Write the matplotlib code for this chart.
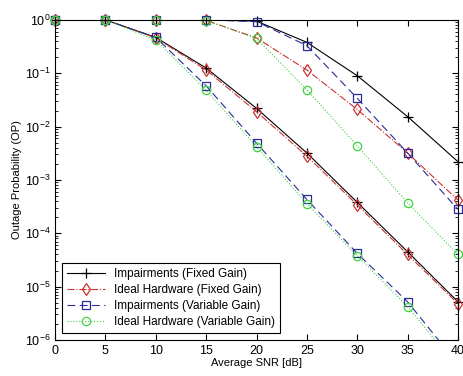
import matplotlib
matplotlib.use('Agg')
import matplotlib.pyplot as plt
import numpy as np
from matplotlib.lines import Line2D

plt.rcParams['font.family'] = ['Liberation Sans', 'DejaVu Sans']

snr = [0, 5, 10, 15, 20, 25, 30, 35, 40]

# steep family
imp_fixed_a = [1, 1, 0.47, 0.125, 0.022, 0.0032, 3.8e-4, 4.5e-5, 5.2e-6]
ideal_fixed_a = [1, 1, 0.46, 0.115, 0.019, 0.0028, 3.4e-4, 4.0e-5, 4.8e-6]
imp_var_a = [1, 1, 0.47, 0.058, 0.0049, 4.3e-4, 4.2e-5, 5.2e-6, 3.5e-7]
ideal_var_a = [1, 1, 0.42, 0.048, 0.0042, 3.6e-4, 3.8e-5, 4.2e-6, 3.0e-7]

# shifted family
imp_fixed_b = [1, 1, 1, 1, 0.95, 0.38, 0.09, 0.0154, 0.0022]
ideal_fixed_b = [1, 1, 1, 0.98, 0.46, 0.115, 0.021, 0.0032, 4.2e-4]
imp_var_b = [1, 1, 1, 1, 0.93, 0.33, 0.034, 0.0032, 2.8e-4]
ideal_var_b = [1, 1, 1, 0.97, 0.45, 0.049, 0.0044, 3.7e-4, 4.0e-5]

labels = ['Impairments (Fixed Gain)', 'Ideal Hardware (Fixed Gain)',
          'Impairments (Variable Gain)', 'Ideal Hardware (Variable Gain)']
styles = [
    dict(color='black', ls='-', marker='+', ms=7),
    dict(color='#c83232', ls='-.', marker='d', ms=6),
    dict(color='#2a2a9a', ls=(0, (7, 4)), marker='s', ms=5.5),
    dict(color='#3fd23f', ls=':', marker='o', ms=6),
]
series = [(imp_fixed_a, imp_fixed_b), (ideal_fixed_a, ideal_fixed_b),
          (imp_var_a, imp_var_b), (ideal_var_a, ideal_var_b)]

fig = plt.figure(figsize=(4.63, 3.76), dpi=100)
ax = fig.add_axes([0.119, 0.096, 0.870, 0.851])

ymin, ymax = 1e-6, 1
x = np.array(snr)
for st, pair in zip(styles, series):
    for ys in pair:
        ys = np.array(ys)
        ax.plot(x, ys, color=st['color'], ls=st['ls'], lw=0.8)
        ok = (ys >= ymin * 0.999) & (ys <= ymax * 1.001)
        ax.plot(x[ok], ys[ok], ls='none', marker=st['marker'], ms=st['ms'],
                mfc='none', mec=st['color'], mew=0.9, clip_on=False)

ax.set_yscale('log')
ax.set_xlim(0, 40)
ax.set_ylim(ymin, ymax)
ax.set_xticks(range(0, 41, 5))
ax.set_yticks([10.0 ** k for k in range(-6, 1)])
ax.tick_params(which='both', direction='in', top=True, right=True, labelsize=9)
ax.tick_params(which='major', length=4)
ax.tick_params(which='minor', length=2)
ax.set_xlabel('Average SNR [dB]', fontsize=8, labelpad=1)
ax.set_ylabel('Outage Probability (OP)', fontsize=8, labelpad=2)

handles = [Line2D([], [], color=st['color'], ls=st['ls'], lw=0.8,
                  marker=st['marker'], ms=st['ms'], mfc='none', mew=0.9)
           for st in styles]
leg = ax.legend(handles, labels, loc='lower left', fontsize=8.5, fancybox=False,
                edgecolor='black', framealpha=1, borderaxespad=0.6,
                handlelength=3.2, labelspacing=0.35, borderpad=0.4)
leg.get_frame().set_linewidth(0.8)

fig.savefig('out.png', dpi=100)
